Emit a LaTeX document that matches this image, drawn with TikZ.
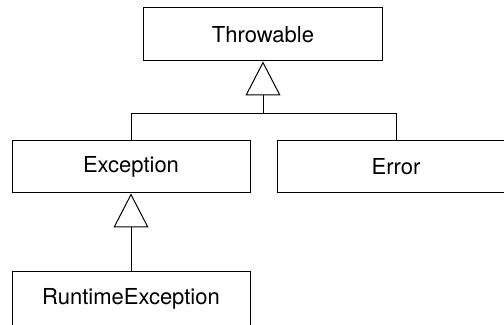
\documentclass[tikz,border=0pt]{standalone}
\usepackage{fontspec}
\setmainfont{TeX Gyre Heros}
\usetikzlibrary{arrows.meta}
\usetikzlibrary{positioning}
\tikzset{classbox/.style={draw, line width=0.5pt, inner sep=0pt, minimum width=119pt, minimum height=26pt, font=\fontsize{11}{13}\selectfont}}
\tikzset{inherit/.style={line width=0.5pt, -{Triangle[open, length=17pt, width=17.5pt]}}}

\begin{document}
\begin{tikzpicture}[x=0.5pt, y=-0.5pt]
	\useasboundingbox (0,0) rectangle (504,325);
	\clip (0,0) rectangle (504,325);
	\node[classbox, minimum width=119.5pt, minimum height=26.5pt] (throwable) at (263,34.5){Throwable};
	\node[classbox] (exception) at (131,167){Exception};
	\node[classbox] (error) at (396,167){Error};%runs off the right edge
	\node[classbox, minimum height=27.5pt] (runtime) at (131,299){RuntimeException};
	\coordinate (join) at (263,114);%branch point
	\draw[inherit] (exception.north) |- (join) -- (throwable.south);
	\draw[line width=0.5pt] (error.north) |- (join);
	\draw[inherit] (runtime.north) -- (exception.south);
\end{tikzpicture}
\end{document}
